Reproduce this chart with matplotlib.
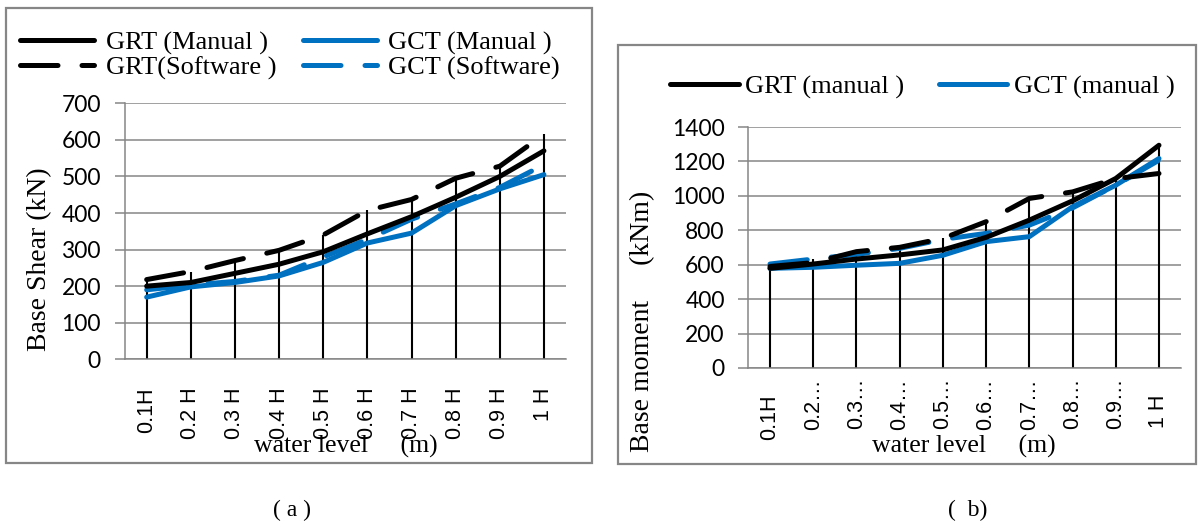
import numpy as np
import matplotlib
matplotlib.use("Agg")
import matplotlib.pyplot as plt
import matplotlib.transforms as mtransforms
from matplotlib.patches import Rectangle

W, H = 1199, 524

# panel (a): base shear (kN)
labels_a = ["0.1H", "0.2 H", "0.3 H", "0.4 H", "0.5 H", "0.6 H", "0.7 H", "0.8 H", "0.9 H", "1 H"]
grt_man_a = [200, 210, 235, 260, 294, 343, 390, 443, 500, 570]
grt_soft_a = [218, 240, 270, 298, 340, 407, 437, 495, 528, 615]
gct_man_a = [170, 198, 210, 228, 265, 318, 345, 420, 466, 505]
gct_soft_a = [190, 203, 213, 230, 280, 328, 383, 425, 470, 532]

# panel (b): base moment (kNm)
labels_b = ["0.1H", "0.2…", "0.3…", "0.4…", "0.5…", "0.6…", "0.7…", "0.8…", "0.9…", "1 H"]
grt_man_b = [579, 604, 633, 657, 686, 759, 859, 971, 1101, 1294]
grt_soft_b = [590, 612, 676, 701, 753, 850, 985, 1023, 1100, 1130]
gct_man_b = [579, 585, 597, 608, 655, 734, 763, 937, 1062, 1217]
gct_soft_b = [604, 633, 660, 695, 747, 782, 830, 930, 1062, 1207]

BLUE = "#0070C0"
GRAY = "#868686"
SERIF = "Liberation Serif"
LW = 3.6
DASH = (7.5, 4.8)


def fx(px):
    return px / W


def fy(py):
    return 1 - py / H


def ax_rect(x0, x1, ytop, ybot):
    return [fx(x0), fy(ybot), (x1 - x0) / W, (ybot - ytop) / H]


def draw_panel(ax, labels, gm, gs, cm, cs, ymax, ystep):
    x = np.arange(len(labels))
    tops = np.max([gm, gs, cm, cs], axis=0)
    ax.vlines(x, 0, tops, color="black", lw=1.5, zorder=2)
    st = dict(lw=LW, solid_capstyle="round", dash_capstyle="round")
    l3, = ax.plot(x, cm, color=BLUE, **st, zorder=3)
    l4, = ax.plot(x, cs, color=BLUE, dashes=DASH, **st, zorder=3)
    l1, = ax.plot(x, gm, color="black", **st, zorder=4)
    l2, = ax.plot(x, gs, color="black", dashes=DASH, **st, zorder=4)
    ax.set_xlim(-0.5, len(labels) - 0.5)
    ax.set_ylim(0, ymax)
    ax.set_yticks(np.arange(0, ymax + 1, ystep))
    ax.set_xticks(x)
    for t in ax.get_yticklabels():
        t.set_family("Lato")
        t.set_fontsize(16.5)
    ax.tick_params(axis="x", length=0)
    ax.tick_params(axis="y", length=7, width=1.1, color=GRAY, pad=10)
    ax.grid(axis="y", color=GRAY, lw=1.1)
    ax.set_axisbelow(True)
    for s in ["top", "right"]:
        ax.spines[s].set_visible(False)
    for s in ["left", "bottom"]:
        ax.spines[s].set_color(GRAY)
        ax.spines[s].set_linewidth(1.1)
    return l1, l2, l3, l4


def put_xlabels(ax, labels, offsets_px, height_px):
    # rotated category labels hung below the axis
    ax.set_xticklabels([])
    trans = mtransforms.blended_transform_factory(ax.transData, ax.transAxes)
    for i, lab in enumerate(labels):
        ax.text(i, -offsets_px[i] / height_px, lab, transform=trans, rotation=90,
                ha="center", va="top", family="Liberation Sans", fontsize=15.5)


fig = plt.figure(figsize=(W / 100, H / 100), dpi=100)

# frames around each chart
fig.patches.append(Rectangle((fx(6), fy(463)), (592 - 6) / W, (463 - 8) / H,
                             transform=fig.transFigure, fill=False, ec=GRAY, lw=1.6))
fig.patches.append(Rectangle((fx(618), fy(464)), (1196 - 618) / W, (464 - 45) / H,
                             transform=fig.transFigure, fill=False, ec=GRAY, lw=1.6))

ax1 = fig.add_axes(ax_rect(124.6, 566, 103.3, 359.3))
h = draw_panel(ax1, labels_a, grt_man_a, grt_soft_a, gct_man_a, gct_soft_a, 700, 100)
put_xlabels(ax1, labels_a, [28] * 10, 256)
fig.legend([h[0], h[1], h[2], h[3]],
           ["GRT (Manual )", "GRT(Software )", "GCT (Manual )", "GCT (Software)"],
           ncol=2, loc="upper left", bbox_to_anchor=(fx(20), fy(31)),
           frameon=False, prop={"family": SERIF, "size": 19},
           handlelength=2.8, handletextpad=0.45, columnspacing=1.0,
           labelspacing=0.05, borderpad=0, borderaxespad=0)

ax2 = fig.add_axes(ax_rect(748.4, 1180.6, 127, 368))
h2 = draw_panel(ax2, labels_b, grt_man_b, grt_soft_b, gct_man_b, gct_soft_b, 1400, 200)
put_xlabels(ax2, labels_b, [27, 10, 10, 10, 10, 10, 10, 10, 10, 27], 241)
fig.legend([h2[0], h2[2]], ["GRT (manual )", "GCT (manual )"],
           ncol=2, loc="upper left", bbox_to_anchor=(fx(670), fy(75)),
           frameon=False, prop={"family": SERIF, "size": 19},
           handlelength=2.6, handletextpad=0.25, columnspacing=1.3,
           borderpad=0, borderaxespad=0)

# axis titles
fig.text(fx(40), fy(259), "Base Shear (kN)", rotation=90, family=SERIF, fontsize=20,
         ha="center", va="center")
fig.text(fx(346), fy(446), "water level     (m)", family=SERIF, fontsize=18.5,
         ha="center", va="center")
fig.text(fx(643), fy(321), "Base moment     (kNm)", rotation=90, family=SERIF,
         fontsize=20, ha="center", va="center")
fig.text(fx(964), fy(446), "water level     (m)", family=SERIF, fontsize=18.5,
         ha="center", va="center")

# captions
fig.text(fx(292), fy(510), "( a )", family=SERIF, fontsize=17, ha="center", va="center")
fig.text(fx(968), fy(510), "(  b)", family=SERIF, fontsize=17, ha="center", va="center")

fig.savefig("out.png", dpi=100)
